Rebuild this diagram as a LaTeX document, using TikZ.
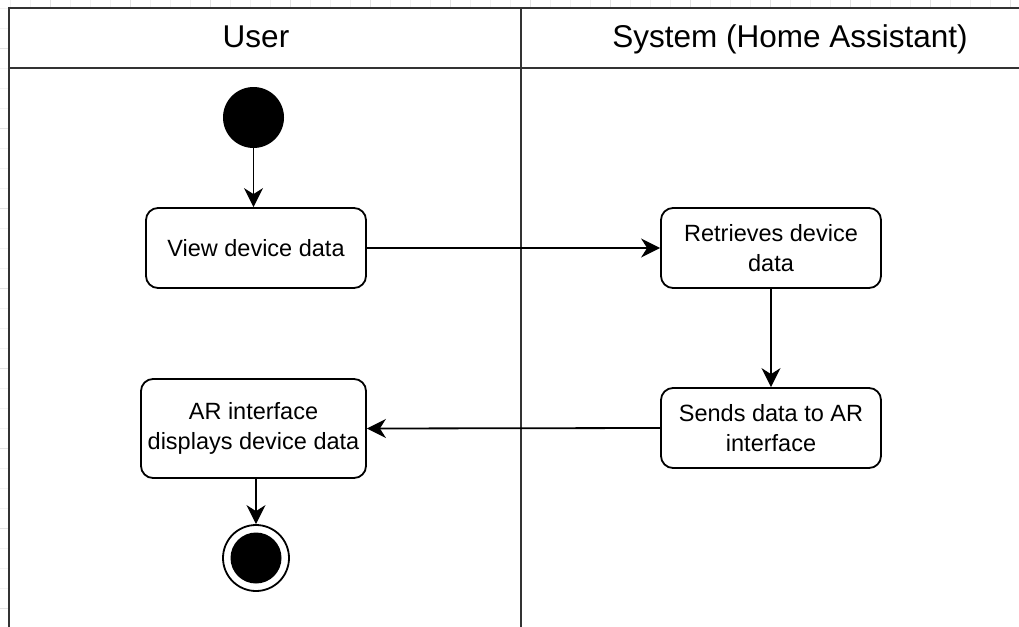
\documentclass[tikz,border=0pt]{standalone}
\usepackage{fontspec}
\setmainfont{Liberation Sans}
\usetikzlibrary{arrows.meta}
\tikzset{
  lane/.style={draw=black!80, line width=2.4pt},
  action/.style={draw=black, line width=1.8pt, rounded corners=12pt, fill=white,
    align=center, font=\fontsize{23.5}{30.5}\selectfont, inner sep=0pt},
  lanetitle/.style={font=\fontsize{31.5}{36}\selectfont, inner sep=0pt, anchor=base},
  flow/.style={draw=black, line width=1.8pt,
    -{Stealth[length=19pt,width=19pt,inset=6pt]}},
  initial/.style={circle, fill=black, minimum size=61pt, inner sep=0pt},
  final/.style={circle, draw=black, line width=1.8pt, fill=white, minimum size=66pt, inner sep=0pt},
}
\begin{document}
\begin{tikzpicture}[x=1pt,y=-1pt]
\useasboundingbox (0,0) rectangle (1019,626);
\clip (0,0) rectangle (1019,626);
\fill[white] (0,0) rectangle (1019,626);
% background grid of the canvas
\foreach \gx in {10,30,...,1019} \draw[black!5, line width=0.8pt] (\gx,0) -- (\gx,626);
\foreach \gy in {8,28,...,626} \draw[black!5, line width=0.8pt] (0,\gy) -- (1019,\gy);
\foreach \gx in {50,130,...,1019} \draw[black!11, line width=0.8pt] (\gx,0) -- (\gx,626);
\foreach \gy in {48,128,...,626} \draw[black!11, line width=0.8pt] (0,\gy) -- (1019,\gy);

% swimlane pool
\filldraw[lane, fill=white] (9,8) rectangle (1060,660);
\draw[lane] (9,68) -- (1060,68);
\draw[lane] (521,8) -- (521,660);
\node[lanetitle] (userlane) at (256,48) {User};
\node[lanetitle] (syslane) at (790,48) {System (Home Assistant)};

% activity nodes
\node[initial] (start) at (253.5,117.5) {};
\node[action, minimum width=220pt, minimum height=80pt] (view) at (256,248) {View device data};
\node[action, minimum width=220pt, minimum height=80pt] (retr) at (771,248) {Retrieves device\\data};
\node[action, minimum width=220pt, minimum height=80pt] (send) at (771,428) {Sends data to AR\\interface};
\node[action, minimum width=225pt, minimum height=99pt] (disp) at (253.5,428.5) {AR interface\\displays device data};
\node[final] (stop) at (256,558) {};
\node[circle, fill=black, minimum size=51pt, inner sep=0pt] (stopdot) at (stop.center) {};

% control flow
\draw[flow] (start.south) -- (start.south |- view.north);
\draw[flow] (view.east) -- (retr.west);
\draw[flow] (retr.south) -- (send.north);
\draw[flow] (send.west) -- (disp.east);
\draw[flow] (disp.south -| stop.north) -- (stop.north);
\end{tikzpicture}
\end{document}
